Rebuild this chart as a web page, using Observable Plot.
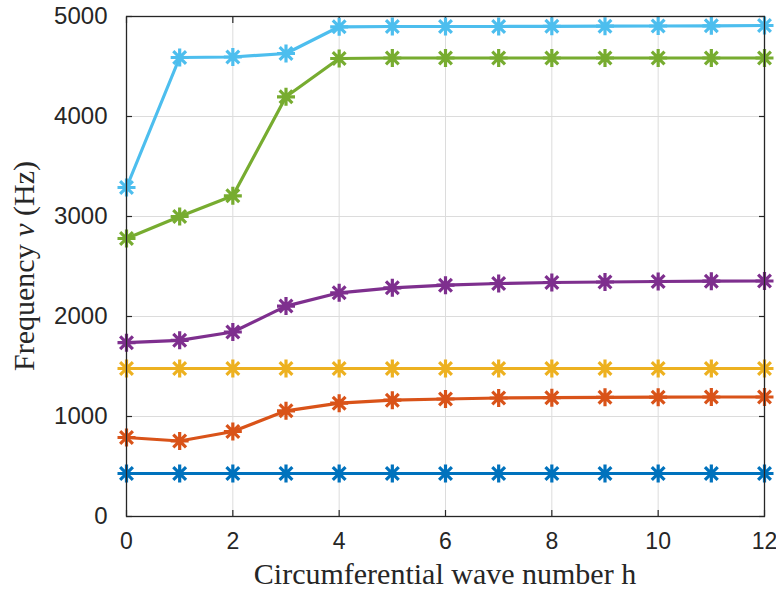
<!DOCTYPE html>
<html>
<head>
<meta charset="utf-8">
<script src="https://cdn.jsdelivr.net/npm/d3@7"></script>
<script src="https://cdn.jsdelivr.net/npm/@observablehq/plot@0.6"></script>
<style>
  html, body { margin: 0; padding: 0; background: #fff; }
  #chart { width: 776px; height: 590px; }
</style>
</head>
<body>
<div id="chart"></div>
<script>
// Circumferential wave number h
const waveNumbers = [0, 1, 2, 3, 4, 5, 6, 7, 8, 9, 10, 11, 12];
// Frequencies (Hz) for six modes
const mode1 = [430, 430, 430, 430, 430, 430, 430, 430, 430, 430, 430, 430, 430];
const mode2 = [790, 755, 850, 1057, 1133, 1163, 1175, 1185, 1188, 1192, 1193, 1195, 1195];
const mode3 = [1480, 1480, 1480, 1480, 1480, 1480, 1480, 1480, 1480, 1480, 1480, 1480, 1480];
const mode4 = [1738, 1762, 1845, 2104, 2237, 2287, 2313, 2330, 2340, 2345, 2350, 2353, 2355];
const mode5 = [2780, 3000, 3207, 4197, 4580, 4585, 4585, 4585, 4585, 4585, 4585, 4585, 4585];
const mode6 = [3290, 4590, 4595, 4630, 4897, 4900, 4900, 4900, 4902, 4903, 4905, 4907, 4910];
const seriesNames = ["mode1", "mode2", "mode3", "mode4", "mode5", "mode6"];
const seriesColors = ["#0072BD", "#D95319", "#EDB120", "#7E2F8E", "#77AC30", "#4DBEEE"];
const xTicks = [0, 2, 4, 6, 8, 10, 12];
const yTicks = [0, 1000, 2000, 3000, 4000, 5000];

const allSeries = [mode1, mode2, mode3, mode4, mode5, mode6];
const rows = [];
allSeries.forEach((vals, i) => {
  vals.forEach((v, j) => rows.push({series: seriesNames[i], h: waveNumbers[j], f: v}));
});

// MATLAB-style 8-armed asterisk marker
const asteriskSymbol = {
  draw(context, size) {
    const r = Math.sqrt(size / Math.PI);
    const d = r * Math.SQRT1_2;
    context.moveTo(-r, 0); context.lineTo(r, 0);
    context.moveTo(0, -r); context.lineTo(0, r);
    context.moveTo(-d, -d); context.lineTo(d, d);
    context.moveTo(-d, d); context.lineTo(d, -d);
  }
};

const tickColor = "#262626";
const fmt = d => String(d);
const chart = Plot.plot({
  width: 776,
  height: 590,
  marginLeft: 126,
  marginRight: 12,
  marginTop: 16,
  marginBottom: 74,
  style: {fontFamily: "'Liberation Sans', Arial, sans-serif", fontSize: "24px", color: tickColor, background: "#fff"},
  x: {domain: [0, 12], ticks: xTicks},
  y: {domain: [0, 5000], ticks: yTicks},
  color: {domain: seriesNames, range: seriesColors},
  marks: [
    Plot.gridX(xTicks, {stroke: "#dcdcdc", strokeOpacity: 1, strokeWidth: 1}),
    Plot.gridY(yTicks, {stroke: "#dcdcdc", strokeOpacity: 1, strokeWidth: 1}),
    Plot.axisX({anchor: "bottom", ticks: xTicks, tickSize: 0, tickPadding: 16, tickFormat: fmt, label: null, fontSize: 23, fill: tickColor}),
    Plot.axisX({anchor: "bottom", ticks: xTicks, tickSize: -6, tickFormat: () => "", label: null, stroke: tickColor, strokeWidth: 1.2}),
    Plot.axisX({anchor: "top", ticks: xTicks, tickSize: -6, tickFormat: () => "", label: null, stroke: tickColor, strokeWidth: 1.2}),
    Plot.axisY({anchor: "left", ticks: yTicks, tickSize: 0, tickPadding: 19, tickFormat: fmt, label: null, fontSize: 24, fill: tickColor}),
    Plot.axisY({anchor: "left", ticks: yTicks, tickSize: -6, tickFormat: () => "", label: null, stroke: tickColor, strokeWidth: 1.2}),
    Plot.axisY({anchor: "right", ticks: yTicks, tickSize: -6, tickFormat: () => "", label: null, stroke: tickColor, strokeWidth: 1.2}),
    Plot.lineY(rows, {x: "h", y: "f", z: "series", stroke: "series", strokeWidth: 3.2}),
    Plot.dot(rows, {x: "h", y: "f", stroke: "series", fill: "none", symbol: asteriskSymbol, r: 9, strokeWidth: 3.2}),
    Plot.frame({stroke: tickColor, strokeWidth: 1.3})
  ]
});

document.getElementById("chart").appendChild(chart);

// LaTeX-like axis labels
const svg = d3.select(chart);
const serif = "'Liberation Serif', 'Times New Roman', serif";
svg.append("text")
  .attr("x", (126 + 764) / 2)
  .attr("y", 584)
  .attr("text-anchor", "middle")
  .attr("font-family", serif)
  .attr("font-size", 30)
  .attr("fill", tickColor)
  .text("Circumferential wave number h");
const yl = svg.append("text")
  .attr("transform", `translate(34, ${(16 + 516) / 2}) rotate(-90)`)
  .attr("text-anchor", "middle")
  .attr("font-family", serif)
  .attr("font-size", 30)
  .attr("fill", tickColor);
yl.append("tspan").text("Frequency ");
yl.append("tspan").attr("font-style", "italic").text("ν");
yl.append("tspan").text(" (Hz)");
</script>
</body>
</html>
